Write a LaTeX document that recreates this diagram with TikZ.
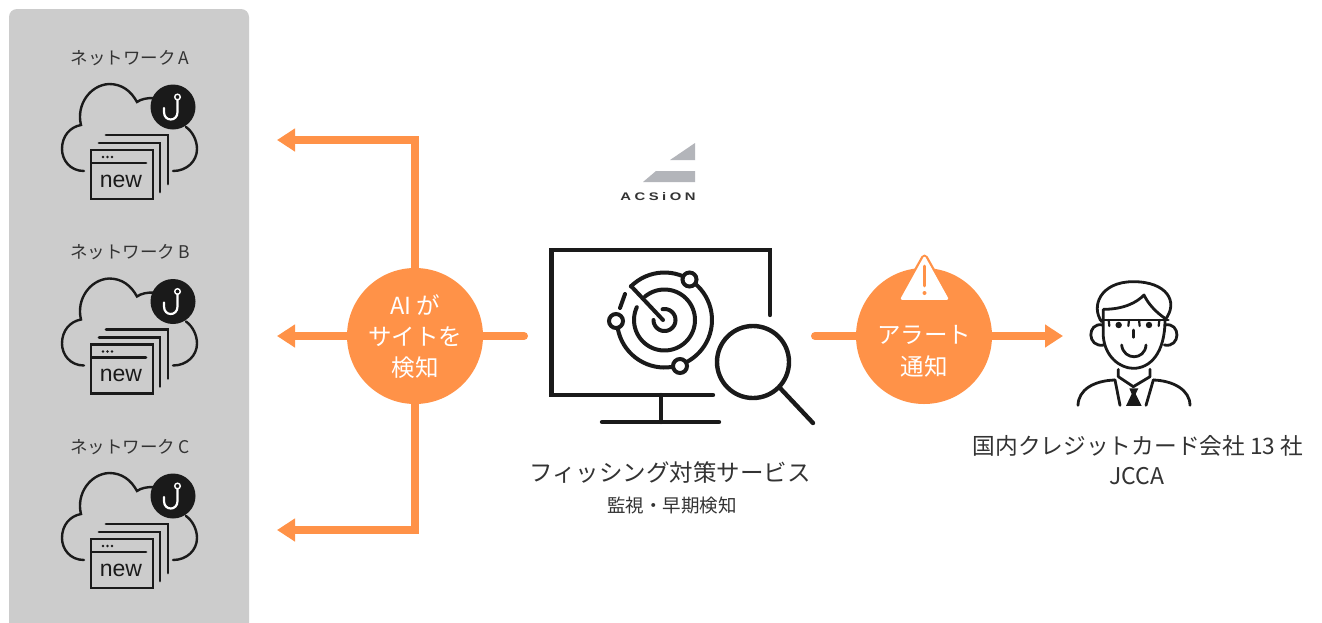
\documentclass[tikz,border=0pt]{standalone}
\usepackage{fontspec}
\setmainfont{Noto Sans CJK JP}
\newfontfamily\logofont[FakeStretch=1.35,LetterSpace=32]{Liberation Sans}
\newfontfamily\newwordfont{Liberation Sans}
\usetikzlibrary{arrows.meta,calc}
\definecolor{orng}{HTML}{FF9248}
\definecolor{ink}{HTML}{1A1A1A}
\definecolor{txt}{HTML}{333333}
\definecolor{panel}{HTML}{CCCCCC}
\definecolor{logog}{HTML}{B3B5BA}
\tikzset{
  x=1pt,y=-1pt,
  flow/.style={line width=8pt,draw=orng,line cap=round},
  flowarr/.style={flow,line cap=butt,-{Triangle[length=18pt,width=22pt]}},
  badge/.style={circle,fill=orng,minimum size=136pt,inner sep=0pt},
  badgetext/.style={text=white,font=\fontsize{23.5}{23.5}\selectfont,anchor=center,inner sep=0pt},
  captext/.style={text=txt,anchor=center,inner sep=0pt,font=\fontsize{17.5}{17.5}\selectfont},
  iconline/.style={draw=ink,line width=2.8pt,line cap=round,line join=miter},
  bigline/.style={draw=ink,line width=4.4pt,line cap=round,line join=miter},
  radarline/.style={draw=ink,line width=4pt,line cap=round,line join=miter},
  personline/.style={draw=ink,line width=2.8pt,line cap=round,line join=round},
}
\newcommand{\netw}[3]{%
  \begin{scope}[yshift=#1]
    \node[captext] (#2lab) at (130,58) {ネットワーク\hspace{3pt}#3};
    \draw[iconline,line width=2.4pt] (84,171) .. controls (70,171) and (62,160) .. (62,149)
      .. controls (62,136) and (70,127) .. (81,125)
      .. controls (76,105) and (90,85) .. (109,84)
      .. controls (122,84) and (131,91) .. (137,102)
      .. controls (141,99) and (147,98) .. (153,98);
    \draw[iconline,line width=2.4pt] (186,127) .. controls (193,132) and (197,141) .. (197,149)
      .. controls (197,161) and (187,171) .. (173,171);
    \node[circle,fill=ink,minimum size=45pt,inner sep=0pt] (#2hook) at (173,107) {};
    \draw[white,line width=2.2pt,line cap=round] (177.5,100) -- (177.5,112)
      .. controls (177.5,122) and (164,122) .. (164,112) -- (164,108);
    \draw[white,line width=1.4pt] (177.5,97) circle[radius=2.8pt];
    \draw[iconline] (106,135) -- (168,135) -- (168,184);
    \draw[iconline] (99,143) -- (160,143) -- (160,192);
    \draw[iconline,line cap=butt] (91,150) rectangle (153,199);
    \draw[iconline] (92,163) -- (146,163);
    \foreach \d in {103,107.5,112}{\fill[ink] (\d,157) circle[radius=1.4pt];}
    \node[inner sep=0pt,text=ink] (#2new) at (121,181) {\newwordfont\fontsize{23}{23}\selectfont new};
  \end{scope}}
\begin{document}
\begin{tikzpicture}
\useasboundingbox (0,0) rectangle (1322,622);
\clip (0,0) rectangle (1322,622);
\fill[white] (0,0) rectangle (1322,622);
\fill[panel,rounded corners=8pt] (9,9) rectangle (249,650);

\netw{0pt}{na}{A}
\netw{-194.5pt}{nb}{B}
\netw{-389pt}{nc}{C}

% logo
\fill[logog] (670,160) -- (695,143) -- (695,160) -- cycle;
\fill[logog] (643,182) -- (656,171) -- (695,171) -- (695,182) -- cycle;
\node[inner sep=0pt,text=txt] (logotext) at (658,197) {\logofont\fontsize{11}{11}\selectfont\bfseries ACSiON};

% badges
\node[badge] (ai) at (415,336) {};
\node[badgetext] (ai1) at (415,305) {AI が};
\node[badgetext] (ai2) at (415,337) {サイトを};
\node[badgetext] (ai3) at (415,368) {検知};
\coordinate (endA) at (277,140);
\coordinate (endB) at (277,336);
\coordinate (endC) at (277,530);
\coordinate (mon) at (524,336);
\draw[flowarr] (ai.north) |- (endA);
\draw[flowarr] (ai.west) -- (endB);
\draw[flowarr] (ai.south) |- (endC);
\draw[flow] (mon) -- (ai.east);

\node[badge] (alert) at (924,336) {};
\coordinate (alstart) at (815,336);
\coordinate (altip) at (1063,336);
\draw[flow] (alstart) -- (alert.west);
\draw[flowarr] (alert.east) -- (altip);
\fill[orng,draw=orng,line width=7pt,line join=round] (902,298) -- (924.5,258) -- (947,298) -- cycle;
\fill[white,draw=white,line width=2.5pt,line join=round] (902,298.5) -- (924.5,258) -- (947,298.5) -- cycle;
\draw[orng,line width=2.6pt,line cap=round] (924.5,266) -- (924.5,286);
\fill[orng] (924.5,293) circle[radius=2pt];
\node[badgetext] (al1) at (924,335) {アラート};
\node[badgetext] (al2) at (924,367) {通知};

% monitor
\draw[bigline] (770,315) -- (770,250) -- (551.5,250) -- (551.5,395) -- (713,395);
\draw[bigline] (661,395) -- (661,422);
\draw[bigline] (602,422) -- (719,422);
% radar
\def\cx{664.5}\def\cy{320}
\draw[radarline] plot[domain=135:-175,samples=60,smooth] ({\cx+47.5*cos(\x)},{\cy-47.5*sin(\x)});
\draw[radarline] plot[domain=155:490,samples=60,smooth] ({\cx+30.5*cos(\x)},{\cy-30.5*sin(\x)});
\draw[radarline] plot[domain=180:460,samples=40,smooth] ({\cx+11*cos(\x)},{\cy-11*sin(\x)});
\draw[radarline] (631,286) -- (663,320);
\draw[radarline] (625,294) -- (620,308);
\foreach \p in {(689.5,279.5),(616,321),(680,366)}{\draw[radarline,fill=white] \p circle[radius=7pt];}
% magnifier
\draw[bigline,fill=white] (753,362) circle[radius=36pt];
\draw[bigline] (780,388) -- (813,423);

% person
\begin{scope}[shift={(1070,270)},x=0.3333pt,y=-0.3333pt]
\draw[personline] (95,155) .. controls (62,110) and (90,35) .. (190,35)
  .. controls (290,35) and (328,95) .. (285,150);
\draw[personline] (100,150) -- (100,118) .. controls (160,118) and (200,98) .. (222,75)
  .. controls (235,103) and (260,128) .. (285,145);
\draw[personline] (100,150) -- (100,200) .. controls (105,260) and (150,295) .. (190,295)
  .. controls (240,295) and (285,250) .. (285,150);
\draw[personline] (98,165) .. controls (50,155) and (50,235) .. (102,225);
\draw[personline] (285,165) .. controls (333,155) and (333,235) .. (283,225);
\draw[personline] (90,150) -- (295,150);
\draw[personline,line width=2.2pt] (116,150) -- (118,168);
\draw[personline,line width=2.2pt] (177,150) -- (175,168);
\draw[personline,line width=2.2pt] (207,150) -- (209,168);
\draw[personline,line width=2.2pt] (268,150) -- (266,168);
\fill[ink] (146,165) circle[radius=3.2pt];
\fill[ink] (237,165) circle[radius=3.2pt];
\draw[personline] (190,180) -- (190,202);
\draw[personline] (155,225) .. controls (160,272) and (225,272) .. (228,225);
\draw[personline] (145,298) -- (145,320) -- (190,350) -- (240,320) -- (240,298);
\draw[personline] (135,330) -- (150,406);
\draw[personline] (250,330) -- (228,406);
\fill[ink] (178,355) -- (205,355) -- (197,372) -- (215,408) -- (168,408) -- (185,372) -- cycle;
\draw[personline] (24,406) .. controls (25,360) and (70,332) .. (135,330);
\draw[personline] (250,330) .. controls (310,332) and (360,360) .. (360,406);
\end{scope}

% captions
\node[captext,font=\fontsize{23.5}{23.5}\selectfont] (svc) at (670,473) {フィッシング対策サービス};
\node[captext,font=\fontsize{18.5}{19}\selectfont] (svc2) at (672,505) {監視・早期検知};
\node[captext,font=\fontsize{22.7}{23}\selectfont] (co) at (1138,446) {国内クレジットカード会社 13 社};
\node[captext,font=\fontsize{23}{23}\selectfont] (jcca) at (1137,476) {JCCA};
\end{tikzpicture}
\end{document}
